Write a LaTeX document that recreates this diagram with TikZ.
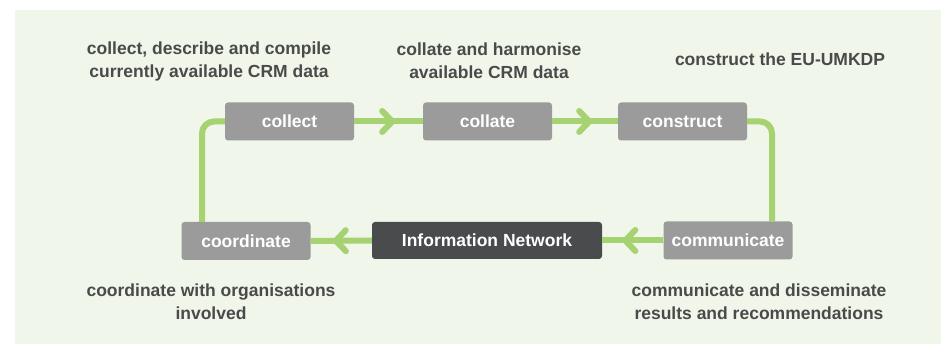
\documentclass[tikz,border=0pt]{standalone}
\usepackage{fontspec}
\setmainfont{Liberation Sans}
\usetikzlibrary{decorations.markings}
\definecolor{panel}{HTML}{F0F6E9}
\definecolor{boxgray}{HTML}{9A9B9A}
\definecolor{boxdark}{HTML}{4A4B4D}
\definecolor{flowgreen}{HTML}{A6D271}
\definecolor{labeltext}{HTML}{4A4A4A}
\tikzset{
  stagebox/.style={fill=boxgray, rounded corners=3pt, minimum width=129pt, minimum height=38pt,
    inner sep=0pt, text=white, font=\bfseries\fontsize{17.5}{23}\selectfont},
  hubbox/.style={stagebox, fill=boxdark, minimum width=230pt, minimum height=37pt},
  note/.style={align=center, text=labeltext, inner sep=0pt, font=\bfseries\fontsize{17.5}{23}\selectfont},
  flow/.style={draw=flowgreen, line width=6pt},
  chevron/.style={draw=flowgreen, line width=6pt, line cap=round, line join=round},
  chevat/.style={postaction={decorate, decoration={markings,
    mark=at position #1 with {\draw[chevron] (-10pt,10.5pt) -- (0pt,0pt) -- (-10pt,-10.5pt);}}}}
}
\begin{document}
\begin{tikzpicture}[x=1pt,y=-1pt]
\useasboundingbox (0,0) rectangle (941,344);
\fill[panel] (15,10) rectangle (941,344);

\node[stagebox] (collect) at (289.5,121.5) {collect};
\node[stagebox] (collate) at (487.5,121.5) {collate};
\node[stagebox] (construct) at (682.5,121.5) {construct};
\node[stagebox] (coordinate) at (246,241) {coordinate};
\node[hubbox] (info) at (487,240.5) {Information Network};
\node[stagebox] (communicate) at (728,240.5) {communicate};

\node[note] (n1) at (209,61) {collect, describe and compile\\currently available CRM data};
\node[note] (n2) at (489,61) {collate and harmonise\\available CRM data};
\node[note] (n3) at (780,59) {construct the EU-UMKDP};
\node[note] (n4) at (211,302) {coordinate with organisations\\involved};
\node[note] (n5) at (759,302) {communicate and disseminate\\results and recommendations};

\draw[flow, chevat=38pt] (collect.east) -- (collate.west);
\draw[flow, chevat=37pt] (collate.east) -- (construct.west);
\draw[flow, chevat=38pt] (communicate.west) -- (info.east);
\draw[flow, chevat=36pt] (info.west) -- (coordinate.east);
\draw[flow, rounded corners=12pt] ([xshift=-44pt]coordinate.north) |- (collect.west);
\draw[flow, rounded corners=12pt] (construct.east) -| ([xshift=44pt]communicate.north);
\end{tikzpicture}
\end{document}
